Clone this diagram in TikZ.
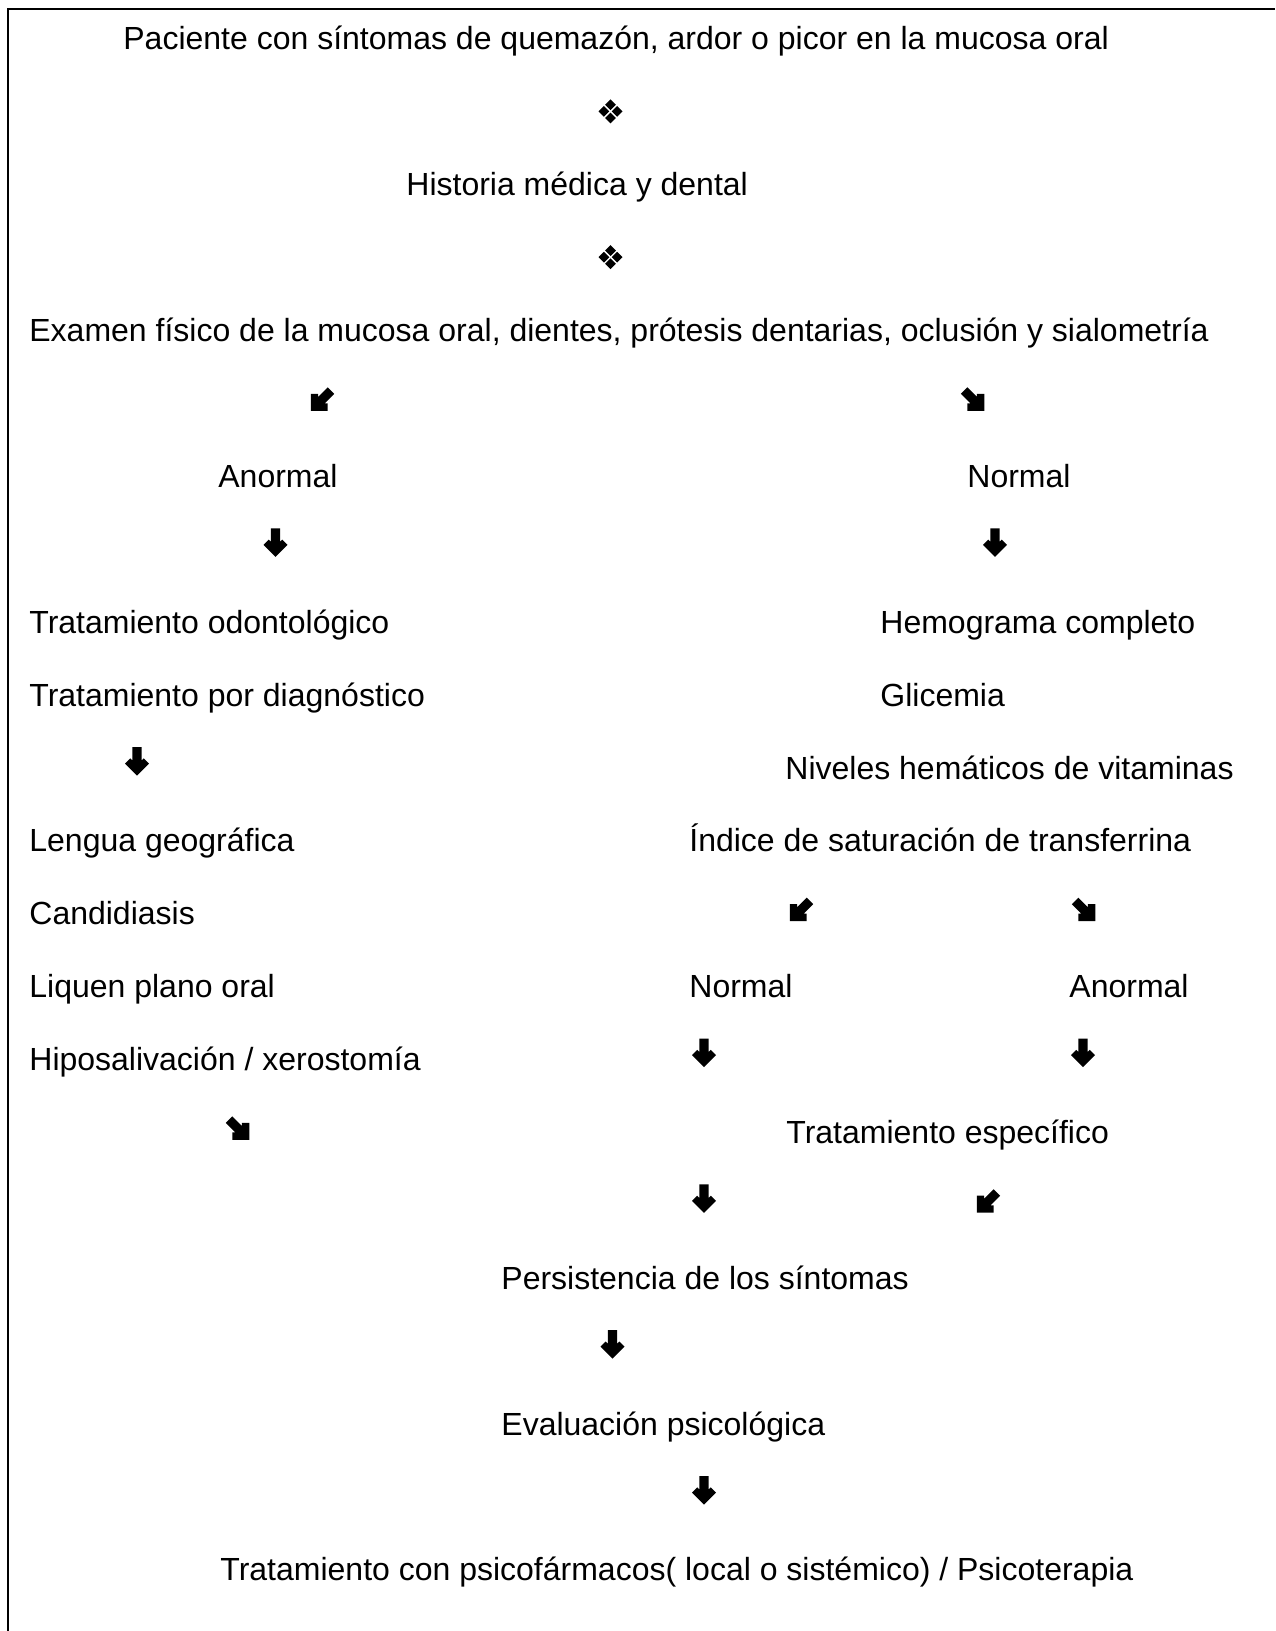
\documentclass[tikz,border=0pt]{standalone}
\usepackage{fontspec}
\setmainfont{Liberation Sans}
\begin{document}
\begin{tikzpicture}[x=0.5pt,y=-0.5pt,
  txt/.style={anchor=base west, inner sep=0pt, font=\fontsize{16}{19}\selectfont},
  warrow/.pic={\fill (0,14.5) -- (-12,2.5) -- (-6.8,-2.7) -- (-4.6,-0.5) -- (-4.6,-14) -- (4.6,-14) -- (4.6,-0.5) -- (6.8,-2.7) -- (12,2.5) -- cycle;},
  fourdiamond/.pic={\foreach \dx/\dy in {0/-6.6,0/6.6,-6.6/0,6.6/0} \fill (\dx,\dy) +(0,-5.4) -- +(5.4,0) -- +(0,5.4) -- +(-5.4,0) -- cycle;},
  frameline/.style={line width=1pt, black}]
\useasboundingbox (0,0) rectangle (1275,1631);
\draw[frameline] (8,1631) -- (8,9) -- (1275,9);

% text
\node[txt] (t0) at (123,50.0) {Paciente con síntomas de quemazón, ardor o picor en la mucosa oral};
\node[txt] (t2) at (406,195.8) {Historia médica y dental};
\node[txt] (t4) at (29,341.6) {Examen físico de la mucosa oral, dientes, prótesis dentarias, oclusión y sialometría};
\node[txt] (t6l) at (218,487.4) {Anormal};
\node[txt] (t6r) at (967,487.4) {Normal};
\node[txt] (t8l) at (29,633.2) {Tratamiento odontológico};
\node[txt] (t8r) at (880,633.2) {Hemograma completo};
\node[txt] (t9l) at (29,706.1) {Tratamiento por diagnóstico};
\node[txt] (t9r) at (880,706.1) {Glicemia};
\node[txt] (t10r) at (785,779.0) {Niveles hemáticos de vitaminas};
\node[txt] (t11l) at (29,851.9) {Lengua geográfica};
\node[txt] (t11r) at (689,851.9) {Índice de saturación de transferrina};
\node[txt] (t12l) at (29,924.8) {Candidiasis};
\node[txt] (t13l) at (29,997.7) {Liquen plano oral};
\node[txt] (t13m) at (689,997.7) {Normal};
\node[txt] (t13r) at (1069,997.7) {Anormal};
\node[txt] (t14l) at (29,1070.6) {Hiposalivación / xerostomía};
\node[txt] (t15r) at (786,1143.5) {Tratamiento específico};
\node[txt] (t17) at (501,1289.3) {Persistencia de los síntomas};
\node[txt] (t19) at (501,1435.1) {Evaluación psicológica};
\node[txt] (t21) at (220,1580.9) {Tratamiento con psicofármacos( local o sistémico) / Psicoterapia};

% glyph positions
\coordinate (d1) at (610.5,111.4);
\coordinate (d3) at (610.5,257.2);
\coordinate (a5l) at (321,400.5);
\coordinate (a5r) at (974,400.5);
\coordinate (a7l) at (275.5,542.3);
\coordinate (a7r) at (995,542.3);
\coordinate (a10) at (137,761);
\coordinate (a12l) at (800,910.8);
\coordinate (a12r) at (1085,910.8);
\coordinate (a14l) at (704,1052.6);
\coordinate (a14r) at (1083,1052.6);
\coordinate (a15) at (239,1129.5);
\coordinate (a16l) at (704,1198.4);
\coordinate (a16r) at (987,1202.4);
\coordinate (a18) at (612.5,1344.2);
\coordinate (a20) at (704,1490);

\pic at (d1) {fourdiamond};
\pic at (d3) {fourdiamond};
\pic[rotate=-45] at (a5l) {warrow};
\pic[rotate=45] at (a5r) {warrow};
\pic at (a7l) {warrow};
\pic at (a7r) {warrow};
\pic at (a10) {warrow};
\pic[rotate=-45] at (a12l) {warrow};
\pic[rotate=45] at (a12r) {warrow};
\pic at (a14l) {warrow};
\pic at (a14r) {warrow};
\pic[rotate=45] at (a15) {warrow};
\pic at (a16l) {warrow};
\pic[rotate=-45] at (a16r) {warrow};
\pic at (a18) {warrow};
\pic at (a20) {warrow};
\end{tikzpicture}
\end{document}
